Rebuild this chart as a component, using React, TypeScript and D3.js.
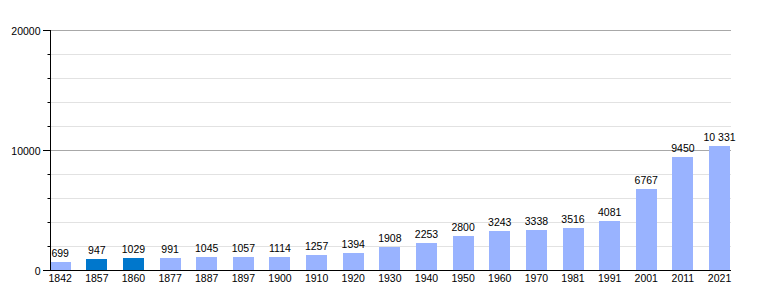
import React from "react";
import * as d3 from "d3";

const years = ["1842","1857","1860","1877","1887","1897","1900","1910","1920","1930","1940","1950","1960","1970","1981","1991","2001","2011","2021"];
const population = [699,947,1029,991,1045,1057,1114,1257,1394,1908,2253,2800,3243,3338,3516,4081,6767,9450,10331];
const valueLabels = ["699","947","1029","991","1045","1057","1114","1257","1394","1908","2253","2800","3243","3338","3516","4081","6767","9450","10 331"];
const highlighted = ["1857","1860"];
const yMajorTicks = [0, 10000, 20000];
const yMinorTicks = [2000,4000,6000,8000,12000,14000,16000,18000];

export default function App() {
  const W = 760, H = 300;
  const left = 50, right = 731, top = 30, bottom = 270;
  const p = 1 - 21 / 36.63;
  const x = d3.scaleBand<string>().domain(years).range([49.7, 730.04]).paddingInner(p).paddingOuter(0).align(0);
  const y = d3.scaleLinear().domain([0, 20000]).range([bottom, top]);
  const font = "'Liberation Sans', Arial, Helvetica, sans-serif";
  return (
    <svg width={W} height={H} style={{ position: "absolute", left: 0, top: 0, background: "#fff" }} fontFamily={font}>
      {yMinorTicks.map((t) => (
        <line key={"g" + t} x1={left} x2={right} y1={Math.round(y(t)) + 0.5} y2={Math.round(y(t)) + 0.5} stroke="#e2e2e2" strokeWidth={1} />
      ))}
      {yMajorTicks.filter((t) => t > 0).map((t) => (
        <line key={"G" + t} x1={left} x2={right} y1={Math.round(y(t)) + 0.5} y2={Math.round(y(t)) + 0.5} stroke="#a8a8a8" strokeWidth={1} />
      ))}
      {years.map((yr, i) => {
        const bx = x(yr)!;
        const by = y(population[i]);
        return (
          <g key={yr}>
            <rect x={bx} y={by} width={x.bandwidth()} height={bottom - by} fill={highlighted.includes(yr) ? "#0077cc" : "#99b3ff"} shapeRendering="crispEdges" />
            <text x={bx + x.bandwidth() / 2} y={by - 5} textAnchor="middle" fontSize={10.5} fill="#000">{valueLabels[i]}</text>
            <text x={bx + x.bandwidth() / 2} y={282} textAnchor="middle" fontSize={10.5} fill="#000">{yr}</text>
          </g>
        );
      })}
      <line x1={left + 0.5} x2={left + 0.5} y1={top} y2={bottom + 1} stroke="#000" strokeWidth={1} />
      <line x1={left} x2={right} y1={bottom + 0.5} y2={bottom + 0.5} stroke="#000" strokeWidth={1.2} />
      {yMinorTicks.map((t) => (
        <line key={"m" + t} x1={47.5} x2={left} y1={Math.round(y(t)) + 0.5} y2={Math.round(y(t)) + 0.5} stroke="#000" strokeWidth={1} />
      ))}
      {yMajorTicks.map((t) => (
        <g key={"M" + t}>
          <line x1={43} x2={left} y1={Math.round(y(t)) + 0.5} y2={Math.round(y(t)) + 0.5} stroke="#000" strokeWidth={1} />
          <text x={40.5} y={y(t) + 4.5} textAnchor="end" fontSize={10.5} fill="#000">{t}</text>
        </g>
      ))}
    </svg>
  );
}
